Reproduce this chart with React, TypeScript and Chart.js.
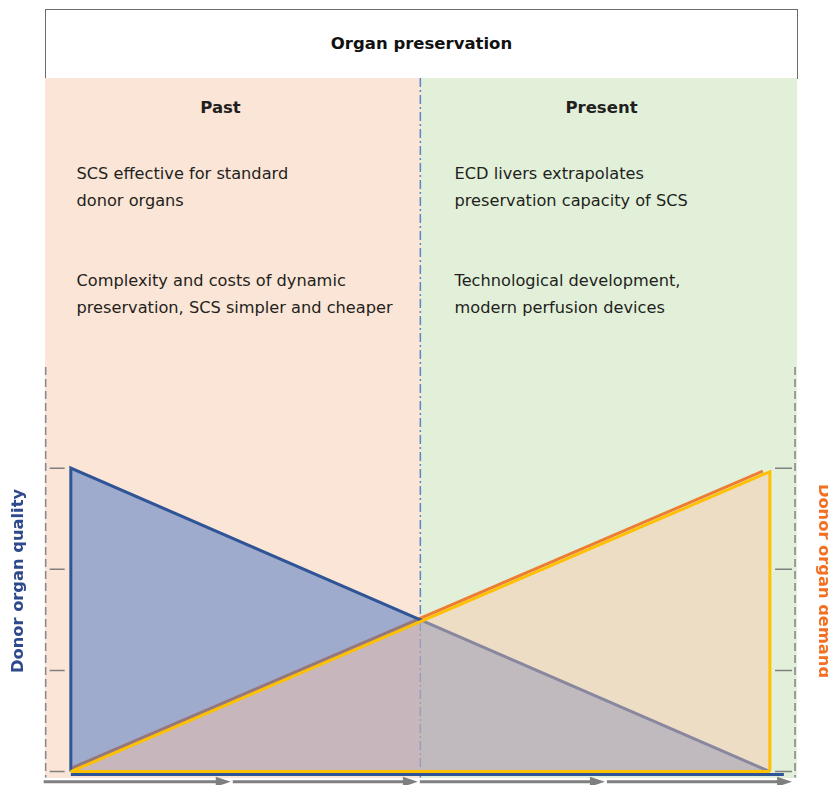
import React, { useEffect, useRef } from "react";
import { Chart, registerables } from "chart.js";

Chart.register(...registerables);

const FONT = '"DejaVu Sans", Verdana, sans-serif';

// ---- text content ----
const MAIN_TITLE = "Organ preservation";
const PERIODS = ["Past", "Present"];
const PAST_NOTES = [
  ["SCS effective for standard", "donor organs"],
  ["Complexity and costs of dynamic", "preservation, SCS simpler and cheaper"],
];
const PRESENT_NOTES = [
  ["ECD livers extrapolates", "preservation capacity of SCS"],
  ["Technological development,", "modern perfusion devices"],
];
const LEFT_AXIS_TITLE = "Donor organ quality";
const RIGHT_AXIS_TITLE = "Donor organ demand";

// ---- data (conceptual time axis 0..10, level axis 0..3) ----
const QUALITY_X = [0, 0, 10];
const QUALITY_Y = [0, 3, 0];
const QUALITY_BASE_X = [0, 10.2];
const QUALITY_BASE_Y = [-0.03, -0.03];
const DEMAND_X = [0, 10, 10];
const DEMAND_Y = [0, 2.965, 0];
const DEMAND_EDGE_X = [0, 9.9];
const DEMAND_EDGE_Y = [0.03, 2.97];
const DEMAND_BASE_X = [0, 10];
const DEMAND_BASE_Y = [0, 0];
const Y_TICKS = [0, 1, 2, 3];
const Y_MIN = -0.232;
const Y_MAX = 4;
const X_MIN = -0.36;
const X_MAX = 10.36;
const AXIS_BOTTOM = -0.06;
const ARROW_LEVEL = -0.1;
const PERIOD_SPLIT = 5;
const ARROW_COUNT = 4;

const PANEL_TOP = 78;

const pts = (xs: number[], ys: number[]) => xs.map((x, i) => ({ x, y: ys[i] }));

const decorPlugin = {
  id: "decor",
  beforeDatasetsDraw(chart: any) {
    const { ctx, chartArea, scales } = chart;
    const xs = scales.x;
    const ys = scales.y;
    const top = ys.getPixelForValue(Y_MAX);
    const bottom = ys.getPixelForValue(AXIS_BOTTOM);
    ctx.save();
    // period divider (dash-dot)
    const cx = xs.getPixelForValue(PERIOD_SPLIT);
    ctx.strokeStyle = "#5b86c9";
    ctx.lineWidth = 1.5;
    ctx.setLineDash([9, 3, 2, 3]);
    ctx.beginPath();
    ctx.moveTo(cx, PANEL_TOP);
    ctx.lineTo(cx, bottom);
    ctx.stroke();
    // dashed axes
    ctx.strokeStyle = "#8a8a8a";
    ctx.lineWidth = 1.6;
    ctx.setLineDash([8, 4]);
    for (const ax of [chartArea.left, chartArea.right]) {
      ctx.beginPath();
      ctx.moveTo(ax, top);
      ctx.lineTo(ax, bottom);
      ctx.stroke();
    }
    // tick marks (inside)
    ctx.setLineDash([]);
    ctx.strokeStyle = "#808080";
    ctx.lineWidth = 1.5;
    for (const v of Y_TICKS) {
      const py = ys.getPixelForValue(v);
      ctx.beginPath();
      ctx.moveTo(chartArea.left + 4, py);
      ctx.lineTo(chartArea.left + 19, py);
      ctx.moveTo(chartArea.right - 20, py);
      ctx.lineTo(chartArea.right - 3, py);
      ctx.stroke();
    }
    ctx.restore();
  },
  afterDatasetsDraw(chart: any) {
    const { ctx, chartArea, scales } = chart;
    const ys = scales.y;
    const py = ys.getPixelForValue(ARROW_LEVEL);
    const start = chartArea.left - 2;
    const end = chartArea.right - 3;
    const seg = (end - start) / ARROW_COUNT;
    ctx.save();
    ctx.fillStyle = "#7f7f7f";
    ctx.strokeStyle = "#7f7f7f";
    for (let i = 0; i < ARROW_COUNT; i++) {
      const s = start + i * seg + (i === 0 ? 0 : 2);
      const e = start + (i + 1) * seg;
      ctx.lineWidth = 3;
      ctx.beginPath();
      ctx.moveTo(s, py);
      ctx.lineTo(e - 10, py);
      ctx.stroke();
      ctx.beginPath();
      ctx.moveTo(e, py);
      ctx.lineTo(e - 15, py - 5);
      ctx.lineTo(e - 15, py + 5);
      ctx.closePath();
      ctx.fill();
    }
    ctx.restore();
  },
};

function App() {
  const canvasRef = useRef<HTMLCanvasElement | null>(null);

  useEffect(() => {
    const canvas = canvasRef.current;
    if (!canvas) return;
    const chart = new Chart(canvas, {
      type: "line",
      data: {
        datasets: [
          {
            label: "demand edge",
            data: pts(DEMAND_EDGE_X, DEMAND_EDGE_Y),
            borderColor: "#ED7D31",
            borderWidth: 3,
            fill: false,
            pointRadius: 0,
            order: 5,
          },
          {
            label: "quality",
            data: pts(QUALITY_X, QUALITY_Y),
            borderColor: "#2F5597",
            borderWidth: 3,
            backgroundColor: "rgba(68,114,196,0.5)",
            fill: "origin",
            pointRadius: 0,
            borderJoinStyle: "miter",
            order: 4,
          },
          {
            label: "quality base",
            data: pts(QUALITY_BASE_X, QUALITY_BASE_Y),
            borderColor: "#2F5597",
            borderWidth: 3,
            fill: false,
            pointRadius: 0,
            order: 3,
          },
          {
            label: "demand",
            data: pts(DEMAND_X, DEMAND_Y),
            borderColor: "#FFC000",
            borderWidth: 3,
            backgroundColor: "rgba(248,198,170,0.45)",
            fill: "origin",
            pointRadius: 0,
            borderJoinStyle: "miter",
            order: 2,
          },
          {
            label: "demand base",
            data: pts(DEMAND_BASE_X, DEMAND_BASE_Y),
            borderColor: "#FFC000",
            borderWidth: 3,
            fill: false,
            pointRadius: 0,
            order: 1,
          },
        ],
      },
      options: {
        animation: false,
        responsive: false,
        layout: { padding: { top: 367, left: 0, right: 0, bottom: 0 } },
        plugins: {
          legend: { display: false },
          tooltip: { enabled: false },
        },
        elements: { line: { tension: 0 }, point: { radius: 0 } },
        scales: {
          x: { type: "linear", min: X_MIN, max: X_MAX, display: false },
          y: {
            type: "linear",
            position: "left",
            min: Y_MIN,
            max: Y_MAX,
            grid: { display: false, drawTicks: false },
            ticks: { display: false },
            border: { display: false },
            title: {
              display: true,
              text: LEFT_AXIS_TITLE,
              color: "#2E4A8D",
              font: { family: FONT, size: 16.3, weight: "bold" },
              padding: { top: 8.5, bottom: 17.6 },
            },
          },
          y2: {
            type: "linear",
            position: "right",
            min: Y_MIN,
            max: Y_MAX,
            grid: { display: false, drawTicks: false },
            ticks: { display: false },
            border: { display: false },
            title: {
              display: true,
              text: RIGHT_AXIS_TITLE,
              color: "#F36F21",
              font: { family: FONT, size: 16.3, weight: "bold" },
              padding: { top: 16.6, bottom: 18.8 },
            },
          },
        },
      },
      plugins: [decorPlugin],
    } as any);
    return () => chart.destroy();
  }, []);

  const noteStyle = (left: number, top: number): React.CSSProperties => ({
    position: "absolute",
    left,
    top,
    fontSize: 16.2,
    lineHeight: "26.8px",
    color: "#231F20",
    whiteSpace: "nowrap",
  });

  const headStyle = (center: number): React.CSSProperties => ({
    position: "absolute",
    left: center - 100,
    width: 200,
    top: 98,
    textAlign: "center",
    fontSize: 16.5,
    lineHeight: "20px",
    fontWeight: "bold",
    color: "#231F20",
  });

  const renderNotes = (notes: string[][], left: number) =>
    notes.map((lines, i) => (
      <div key={i} style={noteStyle(left, i === 0 ? 160.8 : 267.8)}>
        {lines.map((l, j) => (
          <div key={j}>{l}</div>
        ))}
      </div>
    ));

  return (
    <div
      style={{
        position: "absolute",
        left: 0,
        top: 0,
        width: 828,
        height: 785,
        overflow: "hidden",
        background: "#ffffff",
        fontFamily: FONT,
      }}
    >
      <div
        style={{
          position: "absolute",
          left: 45,
          top: 9,
          width: 753,
          height: 70,
          boxSizing: "border-box",
          border: "1px solid #6b6b6b",
          display: "flex",
          alignItems: "center",
          justifyContent: "center",
          fontWeight: "bold",
          fontSize: 16.5,
          color: "#111111",
          paddingBottom: 2,
        }}
      >
        {MAIN_TITLE}
      </div>
      <div style={{ position: "absolute", left: 45, top: PANEL_TOP, width: 376, height: 700, background: "#FBE5D6" }} />
      <div style={{ position: "absolute", left: 421, top: PANEL_TOP, width: 376, height: 700, background: "#E2F0D9" }} />
      <div style={headStyle(220.5)}>{PERIODS[0]}</div>
      <div style={headStyle(601.5)}>{PERIODS[1]}</div>
      {renderNotes(PAST_NOTES, 76.5)}
      {renderNotes(PRESENT_NOTES, 454.5)}
      <canvas
        ref={canvasRef}
        width={850}
        height={795}
        style={{ position: "absolute", left: 0, top: 0, width: 850, height: 795 }}
      />
    </div>
  );
}

export default App;
